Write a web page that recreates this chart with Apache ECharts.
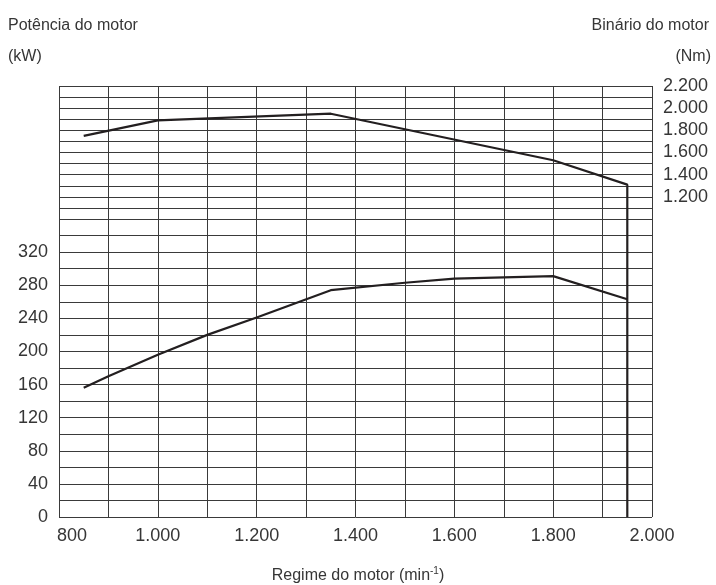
<!DOCTYPE html>
<html>
<head>
<meta charset="utf-8">
<script src="https://cdn.jsdelivr.net/npm/echarts@6/dist/echarts.min.js"></script>
<style>
html,body{margin:0;padding:0;background:#fff;}
#chart{width:716px;height:585px;}
</style>
</head>
<body>
<div id="chart"></div>
<script>
// ---- data ----
var rpmTorque   = [850, 1000, 1350, 1800, 1950];
var torqueNm    = [1750, 1890, 1950, 1530, 1310];
var rpmPower    = [850, 900, 1000, 1100, 1200, 1350, 1500, 1600, 1800, 1950];
var powerKW     = [156, 170, 196, 220, 241, 274, 283, 288, 291, 263];
var cutoffRpm   = 1950;
var rpmTicks    = [800, 1000, 1200, 1400, 1600, 1800, 2000];
var powerTicks  = [0, 40, 80, 120, 160, 200, 240, 280, 320];
var torqueTicks = [1200, 1400, 1600, 1800, 2000, 2200];

var TXT = '#363636', LINE = '#231f20', GRIDC = '#3a3a3a';
var FONT = '"Liberation Sans", Arial, Helvetica, sans-serif';
var TICKSIZE = 18;

function fmt(v){
  var s = String(v);
  return v >= 1000 ? s.slice(0, s.length-3) + '.' + s.slice(s.length-3) : s;
}
function pairs(xs, ys){ return xs.map(function(x,i){ return [x, ys[i]]; }); }

var torqueData = pairs(rpmTorque, torqueNm);
torqueData.push([cutoffRpm, 1000]);
var powerData = pairs(rpmPower, powerKW);
var cutoffData = [[cutoffRpm, 360], [cutoffRpm, 0]];

var chart = echarts.init(document.getElementById('chart'), null, {renderer:'canvas'});

var xBase = {
  type:'value', min:800, max:2000, interval:100,
  axisLine:{show:false}, axisTick:{show:false},
  splitLine:{show:true, showMinLine:true, showMaxLine:true, lineStyle:{color:GRIDC, width:1}}
};
var ySplit = {show:true, showMinLine:true, showMaxLine:true, lineStyle:{color:GRIDC, width:1}};

chart.setOption({
  animation:false,
  backgroundColor:'#fff',
  grid:[
    {left:59, width:593, top:86, height:133, show:false},
    {left:59, width:593, top:219, height:298, show:false}
  ],
  xAxis:[
    Object.assign({}, xBase, {gridIndex:0, axisLabel:{show:false}}),
    Object.assign({}, xBase, {gridIndex:1,
      axisLabel:{show:true, margin:10, color:TXT, fontSize:TICKSIZE, fontFamily:FONT,
        rich:{m:{color:TXT, fontSize:TICKSIZE, fontFamily:FONT, padding:[0,0,0,26]}},
        formatter:function(v){
          if (rpmTicks.indexOf(v) < 0) return '';
          return v === rpmTicks[0] ? '{m|' + fmt(v) + '}' : fmt(v);
        }}})
  ],
  yAxis:[
    {type:'value', gridIndex:0, position:'right', min:1000, max:2200, interval:100,
      axisLine:{show:false}, axisTick:{show:false}, splitLine:ySplit,
      axisLabel:{show:true, margin:11, color:TXT, fontSize:TICKSIZE, fontFamily:FONT,
        formatter:function(v){ return torqueTicks.indexOf(v) >= 0 ? fmt(v) : ''; }}},
    {type:'value', gridIndex:1, position:'left', min:0, max:360, interval:20,
      axisLine:{show:false}, axisTick:{show:false}, splitLine:ySplit,
      axisLabel:{show:true, margin:11, color:TXT, fontSize:TICKSIZE, fontFamily:FONT,
        formatter:function(v){ return powerTicks.indexOf(v) >= 0 ? fmt(v) : ''; }}}
  ],
  series:[
    {type:'line', name:'Binário', xAxisIndex:0, yAxisIndex:0, data:torqueData,
      symbol:'none', clip:false, lineStyle:{color:LINE, width:2.2}},
    {type:'line', name:'Potência', xAxisIndex:1, yAxisIndex:1, data:powerData,
      symbol:'none', clip:false, lineStyle:{color:LINE, width:2.2}},
    {type:'line', name:'Corte', xAxisIndex:1, yAxisIndex:1, data:cutoffData,
      symbol:'none', clip:false, lineStyle:{color:LINE, width:2.2}}
  ],
  graphic:[
    {type:'text', x:8, y:26, style:{text:'Potência do motor', fill:TXT, font:'16px '+FONT, align:'left', verticalAlign:'middle', textAlign:'left', textVerticalAlign:'middle'}},
    {type:'text', x:8, y:57, style:{text:'(kW)', fill:TXT, font:'16px '+FONT, align:'left', verticalAlign:'middle', textAlign:'left', textVerticalAlign:'middle'}},
    {type:'text', x:709, y:26, style:{text:'Binário do motor', fill:TXT, font:'16px '+FONT, align:'right', verticalAlign:'middle', textAlign:'right', textVerticalAlign:'middle'}},
    {type:'text', x:711, y:57, style:{text:'(Nm)', fill:TXT, font:'16px '+FONT, align:'right', verticalAlign:'middle', textAlign:'right', textVerticalAlign:'middle'}},
    {type:'text', x:358, y:575, style:{
      text:'{n|Regime do motor (min}{s|-1}{n|)}', fill:TXT, align:'center', verticalAlign:'middle', textAlign:'center', textVerticalAlign:'middle',
      rich:{ n:{fontSize:16, fontFamily:FONT, fill:TXT, color:TXT, verticalAlign:'bottom', lineHeight:18},
             s:{fontSize:10, fontFamily:FONT, fill:TXT, color:TXT, verticalAlign:'top', lineHeight:18} }
    }}
  ]
});
</script>
</body>
</html>
